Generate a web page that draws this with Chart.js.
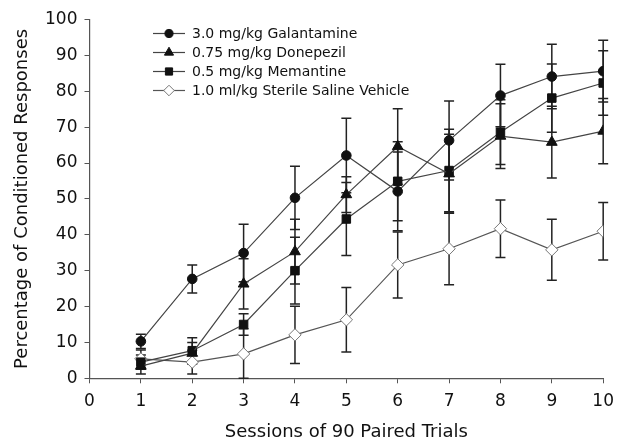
<!DOCTYPE html>
<html>
<head>
<meta charset="utf-8">
<script src="https://cdn.jsdelivr.net/npm/chart.js@4"></script>
<style>
  html, body { margin: 0; padding: 0; background: #fff; }
  #wrap { width: 622px; height: 441px; position: relative; }
</style>
</head>
<body>
<div id="wrap"><canvas id="chart"></canvas></div>
<script>
// sessions 1..10
var sessions = [1, 2, 3, 4, 5, 6, 7, 8, 9, 10];

var galantamine    = [10.3, 27.7, 34.9, 50.3, 62.1, 52.1, 66.3, 78.8, 84.1, 85.6];
var galantamineErr = [2.0, 3.9, 8.0, 8.8, 10.4, 11.0, 11.0, 8.7, 9.0, 8.6];

var donepezil      = [3.4, 7.0, 26.3, 35.3, 51.2, 64.6, 57.0, 67.5, 65.8, 68.9];
var donepezilErr   = [2.2, 3.0, 7.0, 9.0, 5.0, 10.5, 11.0, 9.0, 10.0, 9.1];

var memantine      = [4.5, 7.7, 15.0, 30.0, 44.4, 54.9, 57.9, 68.6, 78.1, 82.3];
var memantineErr   = [2.0, 3.6, 3.0, 9.3, 10.2, 11.0, 11.5, 9.0, 9.5, 9.0];

var saline         = [5.4, 4.5, 6.8, 12.1, 16.3, 31.6, 36.1, 41.7, 35.8, 41.0];
var salineErr      = [2.5, 3.3, 7.0, 8.0, 9.0, 9.2, 10.0, 8.0, 8.5, 8.0];

var labels = ['3.0 mg/kg Galantamine', '0.75 mg/kg Donepezil', '0.5 mg/kg Memantine', '1.0 ml/kg Sterile Saline Vehicle'];
var xTicks = [0, 1, 2, 3, 4, 5, 6, 7, 8, 9, 10];
var yTicks = [0, 10, 20, 30, 40, 50, 60, 70, 80, 90, 100];

var FONT = "'DejaVu Sans', sans-serif";

function pts(vals) {
    return sessions.map(function(s, i){ return {x: s, y: vals[i]}; });
}

function makeSet(label, vals, errs, style, radius, fill, border, lineCol) {
    return {
        label: label,
        data: pts(vals),
        errors: errs,
        borderColor: lineCol,
        borderWidth: 1.2,
        pointStyle: style,
        pointRadius: radius,
        pointBackgroundColor: fill,
        pointBorderColor: border,
        pointBorderWidth: 1,
        tension: 0,
        fill: false
    };
}

var datasets = [
    makeSet(labels[0], galantamine, galantamineErr, 'circle', 4.8, '#111', '#111', '#444'),
    makeSet(labels[1], donepezil, donepezilErr, 'triangle', 6.2, '#111', '#111', '#444'),
    makeSet(labels[2], memantine, memantineErr, 'rect', 6.0, '#111', '#111', '#444'),
    makeSet(labels[3], saline, salineErr, 'rectRot', 6.2, '#fff', '#777', '#555')
];

// error bars under the markers
var errorBars = {
    id: 'errorBars',
    beforeDatasetsDraw: function(chart) {
        var ctx = chart.ctx, xs = chart.scales.x, ys = chart.scales.y;
        ctx.save();
        ctx.strokeStyle = '#222';
        ctx.lineWidth = 1.5;
        chart.data.datasets.forEach(function(ds){
            ds.data.forEach(function(p, i){
                var e = ds.errors[i];
                var px = xs.getPixelForValue(p.x);
                var top = ys.getPixelForValue(Math.min(100, p.y + e));
                var bot = ys.getPixelForValue(Math.max(0, p.y - e));
                ctx.beginPath();
                ctx.moveTo(px, top); ctx.lineTo(px, bot);
                ctx.moveTo(px - 5, top); ctx.lineTo(px + 5, top);
                ctx.moveTo(px - 5, bot); ctx.lineTo(px + 5, bot);
                ctx.stroke();
            });
        });
        ctx.restore();
    }
};

// legend inside the plot, top left
var innerLegend = {
    id: 'innerLegend',
    afterDraw: function(chart) {
        var ctx = chart.ctx;
        var x0 = 153, x1 = 185, mx = 169, tx = 192;
        var rows = [33.5, 52.5, 71.5, 90.5];
        ctx.save();
        chart.data.datasets.forEach(function(ds, i){
            var y = rows[i];
            ctx.strokeStyle = ds.borderColor;
            ctx.lineWidth = 1.2;
            ctx.beginPath();
            ctx.moveTo(x0, y); ctx.lineTo(x1, y);
            ctx.stroke();
            ctx.save();
            ctx.fillStyle = ds.pointBackgroundColor;
            ctx.strokeStyle = ds.pointBorderColor;
            ctx.lineWidth = 1;
            Chart.helpers.drawPoint(ctx, {pointStyle: ds.pointStyle, radius: ds.pointRadius * 0.85, rotation: 0, borderWidth: 1}, mx, y);
            ctx.restore();
            ctx.fillStyle = '#111';
            ctx.font = '14px ' + FONT;
            ctx.textBaseline = 'middle';
            ctx.textAlign = 'left';
            ctx.fillText(ds.label, tx, y + 1);
        });
        ctx.restore();
    }
};

var chart = new Chart(document.getElementById('chart'), {
    type: 'line',
    data: { datasets: datasets },
    options: {
        responsive: true,
        maintainAspectRatio: false,
        animation: false,
        layout: { padding: { left: 0, right: 18.7, top: 19.5, bottom: 0 } },
        plugins: {
            legend: { display: false },
            tooltip: { enabled: false }
        },
        scales: {
            x: {
                type: 'linear',
                min: 0, max: 10,
                afterBuildTicks: function(axis){ axis.ticks = xTicks.map(function(v){ return {value: v}; }); },
                afterFit: function(axis){ axis.height = 62.7; },
                grid: { display: true, drawOnChartArea: false, drawTicks: true, tickLength: 5, color: '#555' },
                border: { display: true, color: '#555', width: 1.2 },
                ticks: { color: '#111', font: { family: FONT, size: 17 }, padding: 8, maxRotation: 0 },
                title: { display: true, text: 'Sessions of 90 Paired Trials', color: '#111',
                         font: { family: FONT, size: 18, lineHeight: 1 }, padding: { top: 0, bottom: 0 } }
            },
            y: {
                min: 0, max: 100,
                afterBuildTicks: function(axis){ axis.ticks = yTicks.map(function(v){ return {value: v}; }); },
                afterFit: function(axis){ axis.width = 89.5; },
                grid: { display: true, drawOnChartArea: false, drawTicks: true, tickLength: 5, color: '#555' },
                border: { display: true, color: '#555', width: 1.2 },
                ticks: { color: '#111', font: { family: FONT, size: 17 }, padding: 7 },
                title: { display: true, text: 'Percentage of Conditioned Responses', color: '#111',
                         font: { family: FONT, size: 18, lineHeight: 1 }, padding: { top: 13, bottom: 0 } }
            }
        }
    },
    plugins: [errorBars, innerLegend]
});
</script>
</body>
</html>
